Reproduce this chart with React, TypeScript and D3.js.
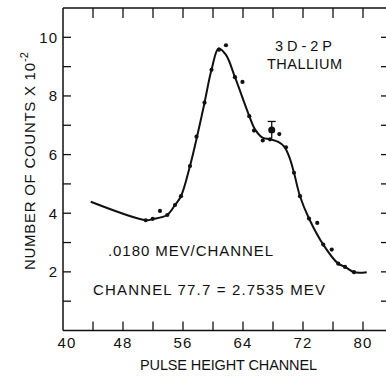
import React from "react";
import * as d3 from "d3";

// measured data points (pulse height channel, counts x 10^-2)
const channels = [51.03, 51.96, 52.93, 53.91, 54.93, 55.73, 56.93, 57.8, 58.87, 59.8, 60.8, 61.73, 62.93, 63.93, 64.84, 65.47, 66.63, 67.6, 68.84, 69.73, 70.8, 71.6, 72.8, 73.9, 74.7, 75.83, 76.7, 77.6, 78.8];
const counts = [3.76, 3.81, 4.08, 3.94, 4.28, 4.58, 5.61, 6.61, 7.77, 8.89, 9.58, 9.73, 8.64, 8.48, 7.31, 6.82, 6.48, 6.52, 6.7, 6.25, 5.38, 4.58, 3.82, 3.67, 2.93, 2.76, 2.28, 2.17, 1.99];

// highlighted point with error bar
const errChannel = [67.83];
const errValue = [6.84];
const errLow = [6.55];
const errHigh = [7.13];

// fitted curve drawn through the points
const fitChannel = [43.7, 51.07, 52.0, 53.87, 54.93, 55.73, 56.93, 57.87, 58.87, 59.8, 60.75, 61.73, 62.93, 64.84, 65.6, 66.6, 67.6, 68.7, 69.5, 70.2, 70.8, 71.6, 72.8, 74.7, 76.7, 77.6, 78.8, 80.5];
const fitCounts = [4.39, 3.76, 3.8, 3.94, 4.28, 4.58, 5.61, 6.61, 7.77, 8.89, 9.62, 9.4, 8.64, 7.31, 6.86, 6.58, 6.52, 6.43, 6.27, 5.9, 5.38, 4.58, 3.82, 2.93, 2.28, 2.17, 1.99, 1.99];

const xMinorTicks = [44, 48, 52, 56, 60, 64, 68, 72, 76, 80];
const xTickLabels = [40, 48, 56, 64, 72, 80];
const yMinorTicks = [1, 2, 3, 4, 5, 6, 7, 8, 9, 10];
const yTickLabels = [2, 4, 6, 8, 10];

const FONT = "'Liberation Sans', Arial, sans-serif";

export default function App() {
  const W = 386, H = 376;
  const left = 63, top = 8, bottom = 330.5, right = 386;
  const x = d3.scaleLinear().domain([40, 80]).range([left, 363]);
  const y = d3.scaleLinear().domain([0, 11]).range([bottom, top]);

  const pts = fitChannel.map((c, i) => [c, fitCounts[i]] as [number, number]);
  const line = d3
    .line<[number, number]>()
    .x((d) => x(d[0]))
    .y((d) => y(d[1]))
    .curve(d3.curveCatmullRom.alpha(0.5));

  const ink = "#111";
  return (
    <svg width={W} height={H} style={{ position: "absolute", left: 0, top: 0, background: "#fff" }}>
      <rect width={W} height={H} fill="#fff" />
      {/* frame */}
      <line x1={left} x2={left} y1={top} y2={bottom} stroke={ink} strokeWidth={1.5} />
      <line x1={left} x2={right} y1={top} y2={top} stroke={ink} strokeWidth={1.5} />
      <line x1={left} x2={right} y1={bottom} y2={bottom} stroke={ink} strokeWidth={1.5} />
      {/* x ticks */}
      {xMinorTicks.map((t) => (
        <g key={"xt" + t}>
          <line x1={x(t)} x2={x(t)} y1={bottom} y2={bottom - 9} stroke={ink} strokeWidth={1.3} />
          <line x1={x(t)} x2={x(t)} y1={top} y2={top + 10} stroke={ink} strokeWidth={1.3} />
        </g>
      ))}
      {xTickLabels.map((t) => (
        <text key={"xl" + t} x={x(t) + (t === 40 ? 4 : 0)} y={347.5} textAnchor="middle" fontFamily={FONT} fontSize={15} fill={ink} letterSpacing={1.2}>
          {t}
        </text>
      ))}
      {/* y ticks */}
      {yMinorTicks.map((t) => (
        <g key={"yt" + t}>
          <line x1={left} x2={left + 8} y1={y(t)} y2={y(t)} stroke={ink} strokeWidth={1.3} />
          <line x1={right - 5} x2={right} y1={y(t)} y2={y(t)} stroke={ink} strokeWidth={1.3} />
        </g>
      ))}
      {yTickLabels.map((t) => (
        <text key={"yl" + t} x={58} y={y(t) + 5.5} textAnchor="end" fontFamily={FONT} fontSize={15} fill={ink} letterSpacing={1}>
          {t}
        </text>
      ))}
      {/* fitted curve */}
      <path d={line(pts) || ""} fill="none" stroke={ink} strokeWidth={2} />
      {/* data points */}
      {channels.map((c, i) => (
        <circle key={"p" + i} cx={x(c)} cy={y(counts[i])} r={2.1} fill={ink} />
      ))}
      {errChannel.map((c, i) => (
        <g key={"e" + i}>
          <line x1={x(c)} x2={x(c)} y1={y(errLow[i])} y2={y(errHigh[i])} stroke={ink} strokeWidth={1.3} />
          <line x1={x(c) - 4} x2={x(c) + 4} y1={y(errHigh[i])} y2={y(errHigh[i])} stroke={ink} strokeWidth={1.3} />
          <circle cx={x(c)} cy={y(errValue[i])} r={3.5} fill={ink} />
        </g>
      ))}
      {/* annotations */}
      <text x={275} y={51} fontFamily={FONT} fontSize={14.5} fill={ink} textLength={57} lengthAdjust="spacing">3D-2P</text>
      <text x={267} y={68.5} fontFamily={FONT} fontSize={14.5} fill={ink} textLength={75} lengthAdjust="spacing">THALLIUM</text>
      <text x={108} y={256} fontFamily={FONT} fontSize={15} fill={ink} textLength={165} lengthAdjust="spacing">.0180 MEV/CHANNEL</text>
      <text x={93} y={295} fontFamily={FONT} fontSize={15} fill={ink} textLength={232} lengthAdjust="spacing">CHANNEL 77.7 = 2.7535 MEV</text>
      {/* axis titles */}
      <text x={140} y={370} fontFamily={FONT} fontSize={14.5} fill={ink} textLength={177} lengthAdjust="spacing">PULSE HEIGHT CHANNEL</text>
      <text transform="translate(35,270) rotate(-90)" x={0} y={0} fontFamily={FONT} fontSize={15} fill={ink} textLength={207} lengthAdjust="spacing">NUMBER OF COUNTS X 10</text>
      <text transform="translate(28,62) rotate(-90)" x={0} y={0} fontFamily={FONT} fontSize={11} fill={ink}>-2</text>
    </svg>
  );
}
